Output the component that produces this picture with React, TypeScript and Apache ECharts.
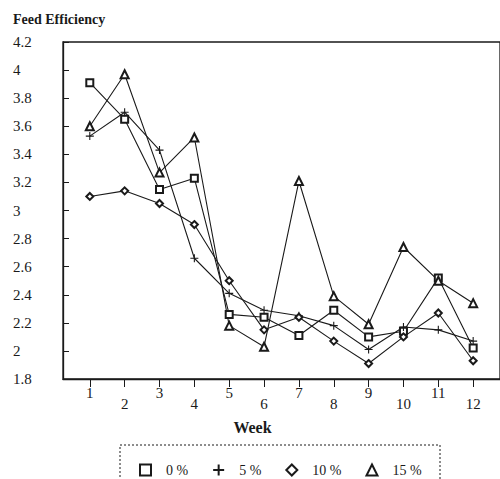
import React, { useEffect, useRef } from "react";
import * as echarts from "echarts";

const weeks = [1, 2, 3, 4, 5, 6, 7, 8, 9, 10, 11, 12];
const seriesNames = ["0 %", "5 %", "10 %", "15 %"];
const pct0 = [3.91, 3.65, 3.15, 3.23, 2.26, 2.24, 2.11, 2.29, 2.1, 2.14, 2.52, 2.02];
const pct5 = [3.53, 3.7, 3.43, 2.66, 2.41, 2.29, 2.25, 2.18, 2.01, 2.17, 2.15, 2.07];
const pct10 = [3.1, 3.14, 3.05, 2.9, 2.5, 2.15, 2.24, 2.07, 1.91, 2.1, 2.27, 1.93];
const pct15 = [3.6, 3.97, 3.27, 3.52, 2.18, 2.03, 3.21, 2.39, 2.19, 2.74, 2.5, 2.34];
const symbols = ["emptyRect", "path://M0,5L10,5M5,0L5,10", "emptyDiamond", "emptyTriangle"];

const INK = "#1a1a1a";
const FONT = "'Liberation Serif', 'DejaVu Serif', serif";

export default function App() {
  const ref = useRef<HTMLDivElement>(null);
  useEffect(() => {
    if (!ref.current) return;
    const chart = echarts.init(ref.current, null, { renderer: "svg" });
    const all = [pct0, pct5, pct10, pct15];
    const sizes = [7, 8, 7, 8];
    chart.setOption({
      animation: false,
      backgroundColor: "#fff",
      grid: {
        left: 63,
        top: 42,
        width: 440,
        height: 337,
        show: true,
        borderColor: INK,
        borderWidth: 1.3,
      },
      xAxis: {
        type: "value",
        min: 0.231,
        max: 12.77,
        splitLine: { show: false },
        axisLine: { lineStyle: { color: INK, width: 1.3 } },
        axisTick: {
          show: true,
          customValues: weeks,
          length: 8,
          lineStyle: { color: INK, width: 1 },
        },
        axisLabel: {
          customValues: weeks,
          margin: 6,
          formatter: (v: number) => (v % 2 === 1 ? `{o|${v}}` : `{e|${v}}`),
          rich: {
            o: { fontFamily: FONT, fontSize: 15, color: INK, padding: [0, 0, 0, 0] },
            e: { fontFamily: FONT, fontSize: 15, color: INK, padding: [11, 0, 0, 0] },
          },
        },
        name: "Week",
        nameLocation: "middle",
        nameGap: 40,
        nameTextStyle: {
          fontFamily: FONT,
          fontSize: 16,
          fontWeight: "bold",
          color: INK,
          padding: [0, 58, 0, 0],
        },
      },
      yAxis: {
        type: "value",
        min: 1.8,
        max: 4.2,
        interval: 0.2,
        splitLine: { show: false },
        axisLine: { show: true, lineStyle: { color: INK, width: 1.3 } },
        axisTick: { show: true, inside: true, length: 6, lineStyle: { color: INK, width: 1 } },
        axisLabel: {
          align: "left",
          margin: 50,
          fontFamily: FONT,
          fontSize: 15,
          color: INK,
          formatter: (v: number) => String(Math.round(v * 10) / 10),
        },
      },
      graphic: [
        {
          type: "text",
          left: 13,
          top: 12,
          style: {
            text: "Feed Efficiency",
            fontFamily: FONT,
            fontSize: 14,
            fontWeight: "bold",
            fill: INK,
          },
        },
        {
          type: "rect",
          shape: { x: 120, y: 445, width: 320, height: 60 },
          style: { fill: "none", stroke: INK, lineWidth: 1, lineDash: [2, 2] },
        },
      ],
      legend: {
        left: 134,
        top: 458,
        itemWidth: 11,
        itemHeight: 11,
        itemGap: 24,
        data: seriesNames.map((n, i) => ({ name: n, icon: symbols[i] })),
        textStyle: { fontFamily: FONT, fontSize: 14, color: INK, padding: [0, 0, 0, 10] },
      },
      series: seriesNames.map((n, i) => ({
        name: n,
        type: "line",
        data: weeks.map((w, j) => [w, all[i][j]]),
        symbol: symbols[i],
        symbolSize: sizes[i],
        showSymbol: true,
        lineStyle: { color: INK, width: 1.1 },
        itemStyle: { color: INK, borderColor: INK, borderWidth: 1.1 },
      })),
    });
    return () => chart.dispose();
  }, []);
  return (
    <div
      ref={ref}
      style={{ position: "fixed", left: 0, top: 0, width: 500, height: 479, background: "#fff" }}
    />
  );
}
